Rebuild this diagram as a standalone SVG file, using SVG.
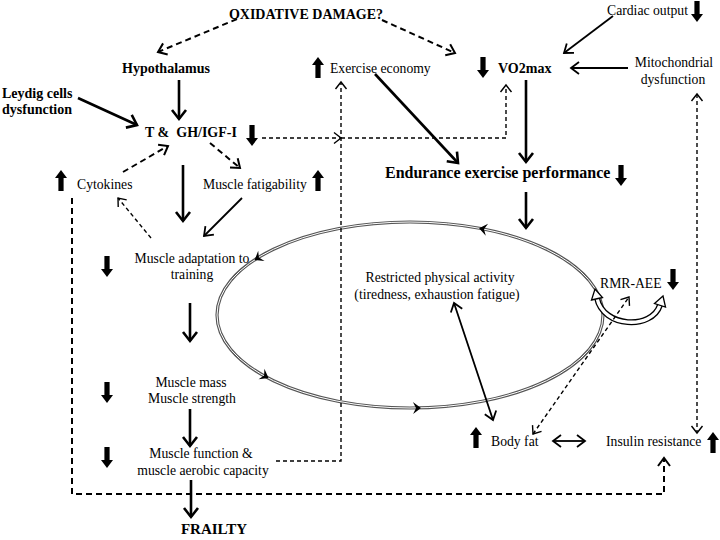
<svg xmlns="http://www.w3.org/2000/svg" xmlns:xlink="http://www.w3.org/1999/xlink" width="720" height="540" viewBox="0 0 720 540">
<style>
text{font-family:"Liberation Serif","Times New Roman",serif;font-size:13.7px;fill:#000}
.b{font-weight:bold;font-size:14px}
.m{text-anchor:middle}
.k{stroke:#000;stroke-width:2.6;fill:none;marker-end:url(#ak)}
.s{stroke:#000;stroke-width:1.8;fill:none;marker-end:url(#as)}
.d{stroke:#000;stroke-width:1.4;fill:none;stroke-dasharray:4 3}
.D{stroke:#000;stroke-width:2;fill:none;stroke-dasharray:6 4}
</style>
<defs>
<marker id="ak" markerUnits="userSpaceOnUse" markerWidth="24" markerHeight="24" refX="12" refY="12" orient="auto" overflow="visible"><path d="M3,5 L12,12 L3,19" fill="none" stroke="#000" stroke-width="2.6"/></marker>
<marker id="as" markerUnits="userSpaceOnUse" markerWidth="24" markerHeight="24" refX="12" refY="12" orient="auto-start-reverse" overflow="visible"><path d="M4,6 L12,12 L4,18" fill="none" stroke="#000" stroke-width="1.8"/></marker>
<marker id="ad" markerUnits="userSpaceOnUse" markerWidth="24" markerHeight="24" refX="12" refY="12" orient="auto-start-reverse" overflow="visible"><path d="M5,6.5 L12,12 L5,17.5" fill="none" stroke="#000" stroke-width="1.4"/></marker>
<marker id="aD" markerUnits="userSpaceOnUse" markerWidth="24" markerHeight="24" refX="12" refY="12" orient="auto" overflow="visible"><path d="M4,6 L12,12 L4,18" fill="none" stroke="#000" stroke-width="2"/></marker>
<path id="up" d="M-2.6,21 L2.6,21 L2.6,8 L6,8 L0,0 L-6,8 L-2.6,8 Z" fill="#000"/>
<path id="dn" d="M-2.6,0 L2.6,0 L2.6,13 L6,13 L0,21 L-6,13 L-2.6,13 Z" fill="#000"/>
<path id="chev" d="M-4,-6 L4,0 L-4,6 L-1,0 Z" fill="#000"/>
</defs>

<g id="connectors">
<!-- ellipse cycle -->
<ellipse cx="410" cy="315" rx="193" ry="93" fill="none" stroke="#555" stroke-width="3.2"/>
<ellipse cx="410" cy="315" rx="193" ry="93" fill="none" stroke="#fff" stroke-width="1"/>
<use href="#chev" transform="translate(483,229) rotate(191)"/>
<use href="#chev" transform="translate(258,258) rotate(148)"/>
<use href="#chev" transform="translate(265,376) rotate(29)"/>
<use href="#chev" transform="translate(417,408) rotate(-1)"/>
<!-- RMR-AEE hollow curved arrow -->
<path d="M597,298 C603,328 652,330 660,305" fill="none" stroke="#000" stroke-width="6"/>
<path d="M597,298 C603,328 652,330 660,305" fill="none" stroke="#fff" stroke-width="3.4"/>
<path d="M595,289 L602.5,297.5 L591.5,300 Z" fill="#fff" stroke="#000" stroke-width="1.3"/>
<path d="M663,296 L665.5,307 L654.5,303.5 Z" fill="#fff" stroke="#000" stroke-width="1.3"/>

<!-- oxidative damage -->
<path class="D" d="M237,19 L158,52" marker-end="url(#aD)"/>
<path class="D" d="M382,20 L455,53" marker-end="url(#aD)"/>
<!-- hypothalamus -> T -->
<path class="k" d="M179,80 L179,119"/>
<path class="k" d="M78,98 L137,125"/>
<!-- T&GH -> right dashed -->
<path class="d" d="M262,138 L341,138" marker-end="url(#ad)"/>
<path class="d" d="M341,138 L506,138 L506,85" marker-end="url(#ad)"/>
<!-- muscle function -> exercise economy -->
<path class="d" d="M276,461 L341,461 L341,82" marker-end="url(#ad)"/>
<!-- cytokines -> T -->
<path class="D" d="M123,172 L168,146" marker-end="url(#aD)"/>
<!-- T -> fatigability -->
<path class="D" d="M210,143 L240,168" marker-end="url(#aD)"/>
<!-- T -> adaptation -->
<path class="k" d="M183,165 L183,221"/>
<!-- fatigability -> adaptation -->
<path class="s" d="M242,198 L204,236"/>
<!-- adaptation -> cytokines -->
<path class="d" d="M151,238 L118,198" marker-end="url(#ad)"/>
<!-- chain down -->
<path class="k" d="M190,303 L190,341"/>
<path class="k" d="M190,409 L190,446"/>
<path class="k" d="M191,480 L191,517"/>
<!-- cytokines loop to insulin resistance -->
<path class="D" d="M72,198 L72,494 L664,494 L664,458" marker-end="url(#aD)"/>
<!-- mitochondrial <-> insulin -->
<path class="d" d="M697,94 L697,433" marker-start="url(#ad)" marker-end="url(#ad)"/>
<!-- cardiac -> VO2max -->
<path class="s" d="M613,16 L564,53"/>
<!-- mito -> VO2max -->
<path class="s" d="M628,68 L571,68"/>
<!-- VO2max -> endurance -->
<path class="k" d="M526,80 L526,162"/>
<!-- exercise economy -> endurance -->
<path class="k" d="M375,74 L458,163"/>
<!-- endurance -> cycle -->
<path class="k" d="M526,192 L526,228"/>
<!-- restricted <-> body fat -->
<path class="s" d="M454,303 L493,420" marker-start="url(#as)"/>
<!-- body fat <-> RMR -->
<path class="d" d="M533,434 L629,297" marker-start="url(#ad)" marker-end="url(#ad)"/>
<!-- body fat <-> insulin -->
<path class="s" d="M553,441 L585,441" marker-start="url(#as)" stroke-width="1.3"/>
</g>

<g id="oxidative"><text class="b m" x="306" y="19">OXIDATIVE DAMAGE?</text></g>
<g id="hypothalamus"><text class="b m" x="166" y="73">Hypothalamus</text></g>
<g id="leydig"><text class="b" x="2" y="98">Leydig cells</text><text class="b" x="2" y="114">dysfunction</text></g>
<g id="t-gh"><text class="b" x="145" y="137" xml:space="preserve">T &amp;  GH/IGF-I</text><use href="#dn" x="252" y="125"/></g>
<g id="cytokines"><use href="#up" x="61" y="170"/><text x="77" y="189">Cytokines</text></g>
<g id="fatigability"><text x="203" y="189">Muscle fatigability</text><use href="#up" x="318" y="170"/></g>
<g id="adaptation"><use href="#dn" x="107" y="256"/><text class="m" x="192" y="263">Muscle adaptation to</text><text class="m" x="192" y="279">training</text></g>
<g id="mass"><use href="#dn" x="107" y="382"/><text class="m" x="191" y="387">Muscle mass</text><text class="m" x="192" y="403">Muscle strength</text></g>
<g id="function"><use href="#dn" x="107" y="447"/><text class="m" x="201" y="458">Muscle function &amp;</text><text class="m" x="203" y="475">muscle aerobic capacity</text></g>
<g id="frailty"><text class="b m" x="214" y="534" style="font-size:15px">FRAILTY</text></g>
<g id="economy"><use href="#up" x="318" y="57"/><text x="330" y="73">Exercise economy</text></g>
<g id="vo2max"><use href="#dn" x="483" y="57"/><text class="b" x="498" y="73">VO2max</text></g>
<g id="cardiac"><text x="607" y="15">Cardiac output</text><use href="#dn" x="697" y="1"/></g>
<g id="mitochondrial"><text class="m" x="674" y="67">Mitochondrial</text><text class="m" x="673" y="84">dysfunction</text></g>
<g id="endurance"><text class="b" x="385" y="178" style="font-size:16px">Endurance exercise performance</text><use href="#dn" x="621" y="165"/></g>
<g id="restricted"><text class="m" x="440" y="282">Restricted physical activity</text><text class="m" x="437" y="299">(tiredness, exhaustion fatigue)</text></g>
<g id="rmr"><text x="600" y="288">RMR-AEE</text><use href="#dn" x="673" y="269"/></g>
<g id="bodyfat"><use href="#up" x="476" y="427"/><text x="491" y="446">Body fat</text></g>
<g id="insulin"><text x="606" y="446">Insulin resistance</text><use href="#up" x="713" y="432"/></g>
</svg>
